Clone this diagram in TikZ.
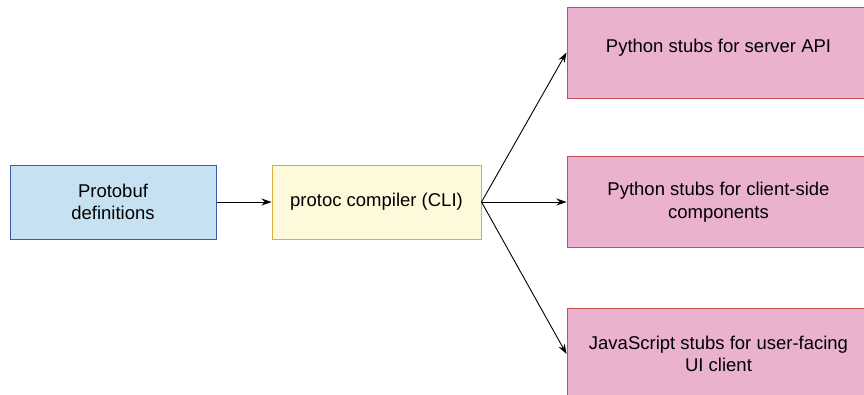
\documentclass[tikz,border=0pt]{standalone}
\usepackage{fontspec}
\setmainfont{Liberation Sans}
\usepackage{xcolor}
\usetikzlibrary{arrows.meta, positioning}

\definecolor{defFill}{HTML}{C6E2F2}
\definecolor{defLine}{HTML}{3E5AA8}
\definecolor{cliFill}{HTML}{FDF9DA}
\definecolor{cliLine}{HTML}{D9AE3B}
\definecolor{stubFill}{HTML}{EBB2D0}
\definecolor{stubLine}{HTML}{C85050}

\begin{document}
\begin{tikzpicture}[
  x=1pt, y=1pt,
  font=\fontsize{18.5}{22.5}\selectfont,
  every node/.style={align=center},
  src/.style={draw=defLine, line width=1pt, fill=defFill,
              minimum width=206pt, minimum height=74pt, inner sep=4pt},
  tool/.style={draw=cliLine, line width=1pt, fill=cliFill,
               minimum width=209pt, minimum height=74pt, inner sep=4pt},
  stub/.style={draw=stubLine, line width=1pt, fill=stubFill,
               minimum width=303pt, minimum height=91pt, inner sep=4pt},
  arr/.style={-{Stealth[length=10pt, width=7pt]}, line width=0.9pt}
]
\useasboundingbox (0,0) rectangle (864,-394);
\clip (0,0) rectangle (864,-394);

\node[src]  (proto) at (113,-202)   {Protobuf\\definitions};
\node[tool] (protoc) at (376.5,-202) {protoc compiler (CLI)};

\node[stub, text depth=12.5pt] (server) at (718.5,-52.5) {Python stubs for server API};
\node[stub] (client) at (718.5,-202) {Python stubs for client-side\\components};
\node[stub] (webui)  at (718.5,-354) {JavaScript stubs for user-facing\\UI client};

\draw[arr] (proto.east) -- (protoc.west);
\draw[arr] (protoc.east) -- (server.west);
\draw[arr] (protoc.east) -- (client.west);
\draw[arr] (protoc.east) -- (webui.west);
\end{tikzpicture}
\end{document}
